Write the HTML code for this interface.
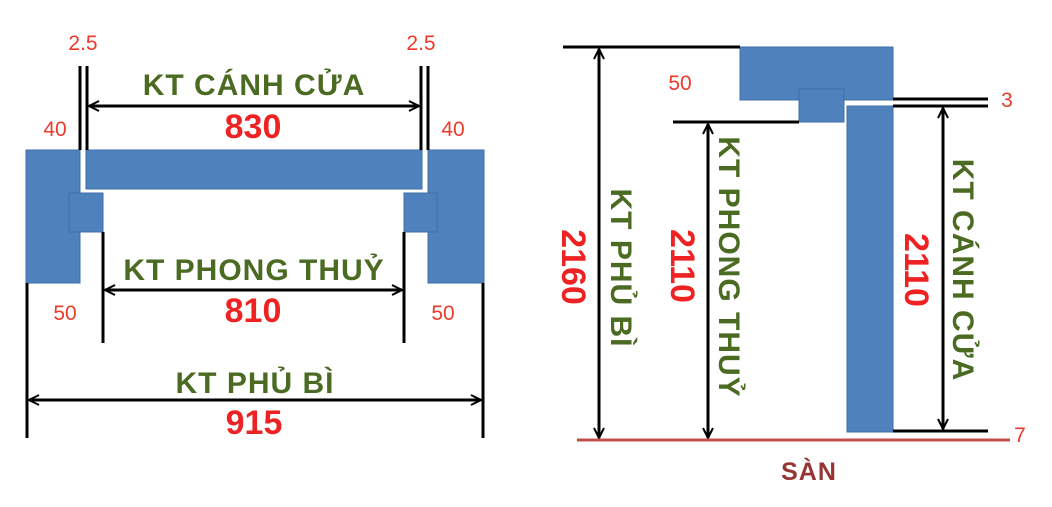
<!DOCTYPE html>
<html><head><meta charset="utf-8"><style>
html,body{margin:0;padding:0;background:#fff;}
svg{display:block;}
text{font-family:"Liberation Sans",sans-serif;font-weight:bold;}
.g{fill:#4b6a22;font-size:30px;letter-spacing:1px;}
.r{fill:#ee2222;font-size:34px;}
.s{fill:#ee3a2a;font-size:21px;font-weight:normal;}
</style></head><body>
<svg width="1052" height="507" viewBox="0 0 1052 507" xmlns="http://www.w3.org/2000/svg">
<defs>
<marker id="a" viewBox="0 0 12 12" refX="11" refY="6" markerWidth="12" markerHeight="12" markerUnits="userSpaceOnUse" orient="auto-start-reverse">
<path d="M1,1 L11,6 L1,11" fill="none" stroke="#000" stroke-width="2"/>
</marker>
</defs>
<g fill="#4f81bd" stroke="#3f6fa8" stroke-width="1">
<polygon points="26,150 80,150 80,193 69,193 69,232 80,232 80,283 26,283"/>
<rect x="69" y="193" width="34" height="39"/>
<rect x="86" y="150" width="336" height="39"/>
<polygon points="428,150 484,150 484,283 428,283 428,232 437,232 437,193 428,193"/>
<rect x="404" y="193" width="33" height="39"/>
<rect x="740" y="47" width="153" height="53"/>
<rect x="799" y="89" width="45" height="33"/>
<rect x="847" y="106" width="46" height="326"/>
</g>
<g stroke="#000" stroke-width="3" fill="none">
<line x1="80" y1="66" x2="80" y2="150"/><line x1="87" y1="66" x2="87" y2="150"/>
<line x1="421" y1="66" x2="421" y2="150"/><line x1="428" y1="66" x2="428" y2="150"/>
<line x1="103" y1="232" x2="103" y2="343"/><line x1="404" y1="232" x2="404" y2="343"/>
<line x1="27" y1="283" x2="27" y2="438"/><line x1="483" y1="283" x2="483" y2="438"/>
<line x1="89" y1="106" x2="419" y2="106" marker-start="url(#a)" marker-end="url(#a)"/>
<line x1="105" y1="290" x2="402" y2="290" marker-start="url(#a)" marker-end="url(#a)"/>
<line x1="29" y1="400" x2="481" y2="400" marker-start="url(#a)" marker-end="url(#a)"/>
<line x1="563" y1="47" x2="740" y2="47"/>
<line x1="673" y1="122" x2="799" y2="122"/>
<line x1="893" y1="99" x2="988" y2="99"/>
<line x1="893" y1="106" x2="988" y2="106"/>
<line x1="893" y1="431" x2="988" y2="431"/>
<line x1="599" y1="49" x2="599" y2="438" marker-start="url(#a)" marker-end="url(#a)"/>
<line x1="708" y1="124" x2="708" y2="438" marker-start="url(#a)" marker-end="url(#a)"/>
<line x1="943" y1="108" x2="943" y2="429" marker-start="url(#a)" marker-end="url(#a)"/>
</g>
<line x1="577" y1="440" x2="1010" y2="440" stroke="#c0504d" stroke-width="3"/>
<g text-anchor="middle">
<text class="g" x="254" y="95">KT CÁNH CỬA</text>
<text class="r" x="253" y="138">830</text>
<text class="g" x="254" y="280">KT PHONG THUỶ</text>
<text class="r" x="253" y="322">810</text>
<text class="g" x="255" y="393">KT PHỦ BÌ</text>
<text class="r" x="254" y="434">915</text>
<text class="s" x="83" y="50">2.5</text>
<text class="s" x="421" y="50">2.5</text>
<text class="s" x="55" y="136">40</text>
<text class="s" x="453" y="136">40</text>
<text class="s" x="65" y="320">50</text>
<text class="s" x="443" y="320">50</text>
<text class="s" x="680" y="90">50</text>
<text class="s" x="1007" y="107">3</text>
<text class="s" x="1020" y="442">7</text>
<text x="809" y="480" style="fill:#943634;font-size:25px;letter-spacing:1px">SÀN</text>
<text class="g" transform="translate(611,268) rotate(90)">KT PHỦ BÌ</text>
<text class="r" transform="translate(562,267) rotate(90)">2160</text>
<text class="g" transform="translate(719,267) rotate(90)">KT PHONG THUỶ</text>
<text class="r" transform="translate(671,266) rotate(90)">2110</text>
<text class="g" transform="translate(953,270) rotate(90)">KT CÁNH CỬA</text>
<text class="r" transform="translate(905,270) rotate(90)">2110</text>
</g>
</svg>
</body></html>
